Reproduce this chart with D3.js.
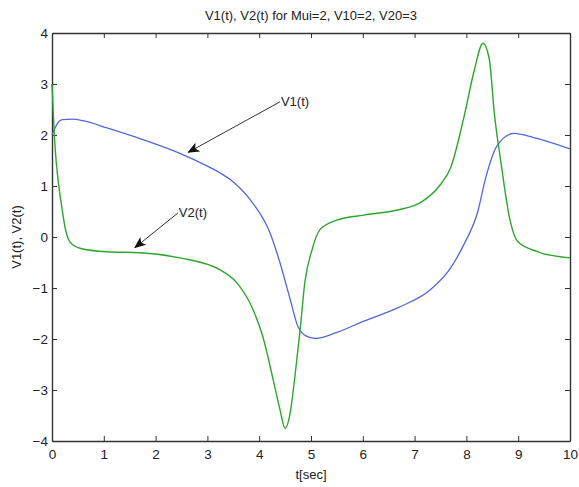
<!DOCTYPE html>
<html>
<head>
<meta charset="utf-8">
<script src="https://cdn.jsdelivr.net/npm/d3@7"></script>
<style>
  body { margin: 0; background: #fff; }
  text { font-family: "Liberation Sans", Arial, sans-serif; fill: #222; }
  .tick text { font-size: 13.5px; }
</style>
</head>
<body>
<div id="chart"></div>
<script>
// data
const t1 = [0, 0.1, 0.2, 0.4, 0.6, 1.06, 1.7, 2.47, 3.0, 3.24, 3.5, 3.88, 4.21, 4.4, 4.6, 4.75, 4.92, 5.1, 5.5, 6.02, 6.67, 7.31, 7.7, 7.95, 8.22, 8.37, 8.6, 8.92, 9.3, 10]
const v1 = [2.0, 2.22, 2.3, 2.31, 2.28, 2.14, 1.93, 1.64, 1.39, 1.26, 1.08, 0.66, 0.08, -0.5, -1.23, -1.76, -1.95, -1.99, -1.87, -1.65, -1.39, -1.03, -0.6, -0.15, 0.5, 1.15, 1.8, 2.03, 1.95, 1.73]
const t2 = [0, 0.06, 0.12, 0.19, 0.25, 0.35, 0.54, 1.06, 1.7, 2.47, 3.24, 3.57, 3.88, 4.07, 4.27, 4.4, 4.5, 4.6, 4.69, 4.79, 4.88, 5.02, 5.17, 5.5, 6.02, 6.67, 7.12, 7.5, 7.7, 7.95, 8.15, 8.32, 8.44, 8.54, 8.67, 8.83, 9.0, 9.38, 10]
const v2 = [3.0, 1.75, 1.1, 0.58, 0.2, -0.1, -0.22, -0.29, -0.31, -0.41, -0.64, -0.9, -1.42, -1.95, -2.8, -3.38, -3.75, -3.44, -2.73, -1.82, -0.9, -0.25, 0.14, 0.33, 0.43, 0.53, 0.68, 1.03, 1.37, 2.34, 3.26, 3.8, 3.5, 2.42, 1.44, 0.39, -0.1, -0.29, -0.41]
const xTicks = [0, 1, 2, 3, 4, 5, 6, 7, 8, 9, 10]
const yTicks = [-4, -3, -2, -1, 0, 1, 2, 3, 4]
// annotations: [label, text position, arrow tip] in data units
const notes = [
    {label: "V1(t)", from: [4.4, 2.65], to: [2.63, 1.66]},
    {label: "V2(t)", from: [2.43, 0.47], to: [1.6, -0.21]}
]

const W = 579, H = 487
const margin = {top: 33, right: 9, bottom: 46, left: 52}
const width = W - margin.left - margin.right,
    height = H - margin.top - margin.bottom

const root = d3.select("#chart").append("svg")
    .attr("width", W)
    .attr("height", H)

root.append("defs").append("marker")
    .attr("id", "head")
    .attr("viewBox", "0 0 12 10")
    .attr("refX", 11).attr("refY", 5)
    .attr("markerWidth", 12).attr("markerHeight", 10)
    .attr("markerUnits", "userSpaceOnUse")
    .attr("orient", "auto")
    .append("path")
    .attr("d", "M0,0 L12,5 L0,10 L3,5 Z")
    .attr("fill", "#111")

const svg = root.append("g")
    .attr("transform", "translate(" + margin.left + "," + margin.top + ")")

const x = d3.scaleLinear().domain([0, 10]).range([0, width])
const y = d3.scaleLinear().domain([-4, 4]).range([height, 0])

// axes with inward ticks on all four sides (matlab box)
svg.append("g")
    .attr("transform", "translate(0," + height + ")")
    .call(d3.axisBottom(x).tickValues(xTicks).tickSize(-5).tickPadding(8).tickSizeOuter(0))
svg.append("g")
    .call(d3.axisTop(x).tickValues(xTicks).tickSize(-5).tickFormat("").tickSizeOuter(0))
svg.append("g")
    .call(d3.axisLeft(y).tickValues(yTicks).tickSize(-5).tickPadding(4).tickSizeOuter(0))
svg.append("g")
    .attr("transform", "translate(" + width + ",0)")
    .call(d3.axisRight(y).tickValues(yTicks).tickSize(-5).tickFormat("").tickSizeOuter(0))
svg.selectAll(".domain").attr("stroke", "#333").attr("stroke-width", 1.4)
svg.selectAll(".tick line").attr("stroke", "#333")

const line = d3.line()
    .x(d => x(d[0]))
    .y(d => y(d[1]))
    .curve(d3.curveMonotoneX)

svg.append("path")
    .datum(d3.zip(t1, v1))
    .attr("fill", "none")
    .attr("stroke", "#5566d8")
    .attr("stroke-width", 1.3)
    .attr("d", line)

svg.append("path")
    .datum(d3.zip(t2, v2))
    .attr("fill", "none")
    .attr("stroke", "#2ea52e")
    .attr("stroke-width", 1.4)
    .attr("d", line)

notes.forEach(n => {
    svg.append("line")
        .attr("x1", x(n.from[0])).attr("y1", y(n.from[1]))
        .attr("x2", x(n.to[0])).attr("y2", y(n.to[1]))
        .attr("stroke", "#333")
        .attr("stroke-width", 1)
        .attr("marker-end", "url(#head)")
    svg.append("text")
        .attr("x", x(n.from[0]) + 1)
        .attr("y", y(n.from[1]) + 1)
        .attr("dominant-baseline", "middle")
        .style("font-size", "13px")
        .text(n.label)
})

svg.append("text")
    .attr("x", width / 2)
    .attr("y", -13)
    .attr("text-anchor", "middle")
    .style("font-size", "13px")
    .text("V1(t), V2(t) for Mui=2, V10=2, V20=3")

svg.append("text")
    .attr("x", width / 2)
    .attr("y", height + 38)
    .attr("text-anchor", "middle")
    .style("font-size", "13px")
    .text("t[sec]")

svg.append("text")
    .attr("transform", "translate(-31," + (height / 2) + ") rotate(-90)")
    .attr("text-anchor", "middle")
    .style("font-size", "13px")
    .text("V1(t), V2(t)")
</script>
</body>
</html>
